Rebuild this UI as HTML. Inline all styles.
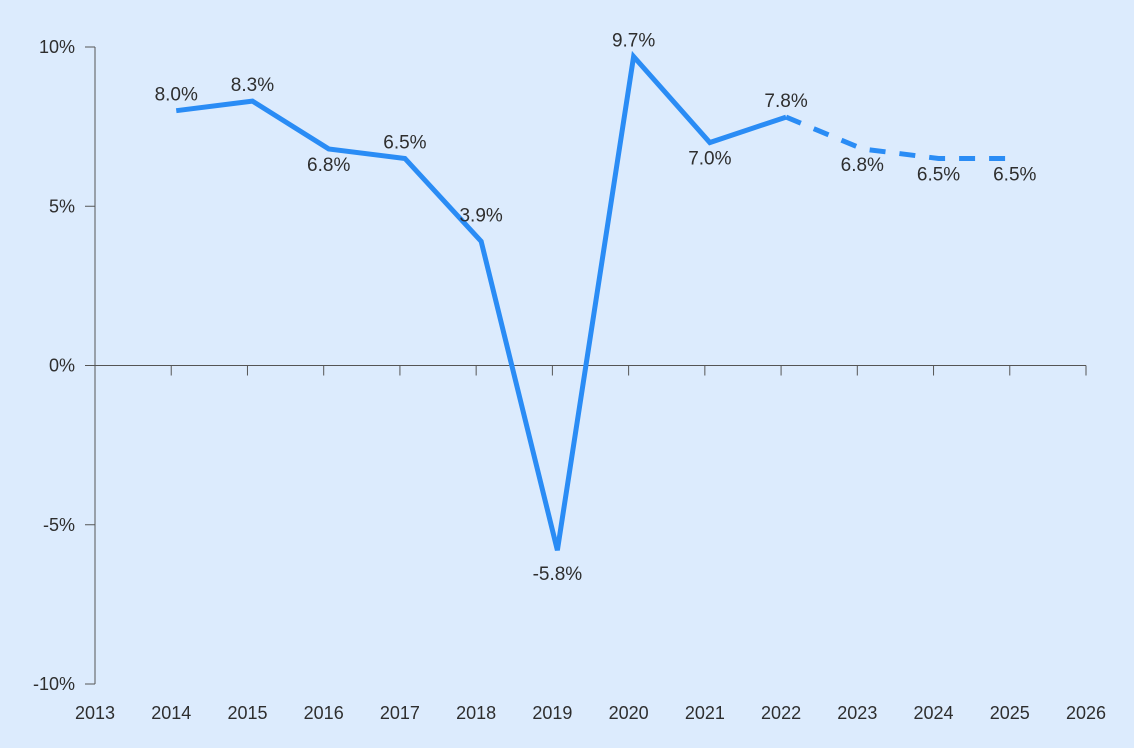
<!DOCTYPE html>
<html><head><meta charset="utf-8"><style>
html,body{margin:0;padding:0;background:#dcebfd;}
svg{display:block;font-family:"Liberation Sans",sans-serif;}
</style></head><body>
<svg id="chart" width="1134" height="748" viewBox="0 0 1134 748" xmlns="http://www.w3.org/2000/svg">
<rect width="1134" height="748" fill="#dcebfd"/>
<g id="axes"></g><g id="series"></g><g id="labels"></g>
</svg>
<script>
const years=[2014,2015,2016,2017,2018,2019,2020,2021,2022,2023,2024,2025];
const values=[8.0,8.3,6.8,6.5,3.9,-5.8,9.7,7.0,7.8,6.8,6.5,6.5];
const forecastStart=2022;
const labelPlacement=["above","above","below","above","above","below","above","below","above","below","below","below"];
const xTicks=[2013,2014,2015,2016,2017,2018,2019,2020,2021,2022,2023,2024,2025,2026];
const yTicks=[-10,-5,0,5,10];

const NS="http://www.w3.org/2000/svg";
const x0=95,x1=1086,yTop=47,yBot=684;
const xs=y=>x0+(y-2013)*(x1-x0)/13;
const ys=v=>yTop+(10-v)*(yBot-yTop)/20;
const px=y=>xs(y)+5;
function mk(tag,attrs,parent,text){const e=document.createElementNS(NS,tag);for(const k in attrs)e.setAttribute(k,attrs[k]);if(text!==undefined)e.textContent=text;parent.appendChild(e);return e;}
const axes=document.getElementById('axes'),series=document.getElementById('series'),labels=document.getElementById('labels');
const col="#555";
let e=mk('line',{x1:x0,y1:yTop,x2:x0,y2:yBot,stroke:col,'stroke-width':1},axes);


e=mk('line',{x1:x0,y1:ys(0),x2:x1,y2:ys(0),stroke:col,'stroke-width':1},axes);


yTicks.forEach(v=>{
 let t=mk('line',{x1:x0-10,y1:ys(v),x2:x0,y2:ys(v),stroke:col},axes);
 
 
 let l=mk('text',{x:x0-20,y:ys(v)+6,'text-anchor':'end','font-size':18,fill:'#2e2e2e'},axes,v+'%');
 
 
});
xTicks.forEach(y=>{
 let t=mk('line',{x1:xs(y),y1:ys(0),x2:xs(y),y2:ys(0)+10,stroke:col},axes);
 
 
 let l=mk('text',{x:xs(y),y:719,'text-anchor':'middle','font-size':18,fill:'#2e2e2e'},axes,String(y));
 
 
});
const fi=years.indexOf(forecastStart);
const pts=years.map((y,i)=>px(y)+','+ys(values[i]));
let a=mk('polyline',{points:pts.slice(0,fi+1).join(' '),fill:'none',stroke:'#2a8cf5','stroke-width':5,'stroke-linejoin':'miter'},series);


let f=mk('polyline',{points:pts.slice(fi).join(' '),fill:'none',stroke:'#2a8cf5','stroke-width':5,'stroke-dasharray':'16 14'},series);


years.forEach((y,i)=>{
 const above=labelPlacement[i]==='above';
 const prev=i>0?values[i-1]:values[i], next=i<values.length-1?values[i+1]:values[i];
 const sharp=(values[i]<prev-5&&values[i]<next-5);
 const steep=above&&i>0&&values[i]<prev-2;
 let dy=above?(steep?-20:-10):(sharp?30:22);
 let l=mk('text',{x:px(y),y:ys(values[i])+dy,'text-anchor':'middle','font-size':19,fill:'#2e2e2e'},labels,values[i].toFixed(1)+'%');
 
 
});
</script>
</body></html>
